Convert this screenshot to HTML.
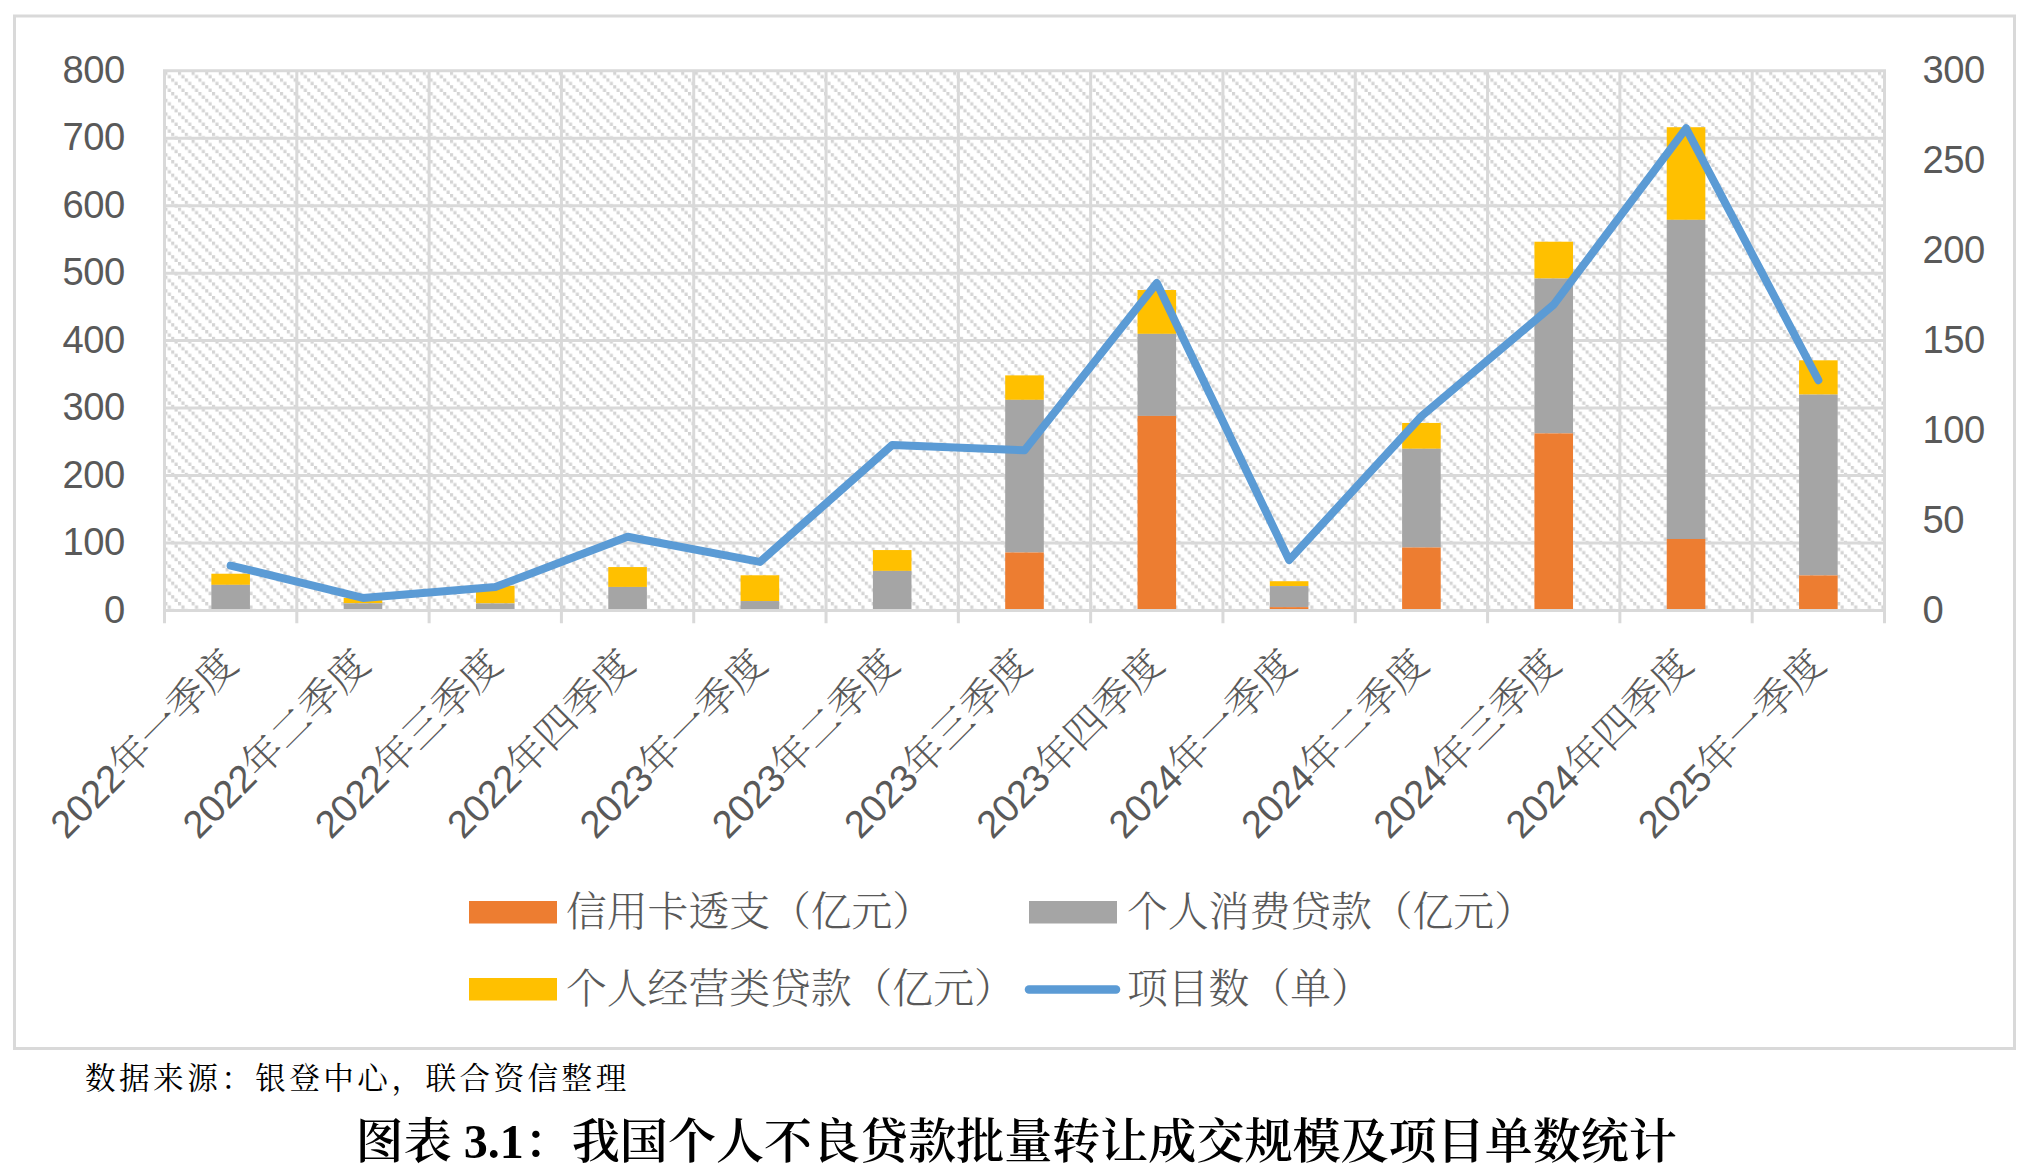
<!DOCTYPE html>
<html lang="zh-CN"><head><meta charset="utf-8"><title>图表 3.1</title>
<style>html,body{margin:0;padding:0;background:#fff}body{width:2034px;height:1176px;overflow:hidden}svg{display:block}.ax{font-family:"Liberation Sans",sans-serif;font-size:38.2px;fill:#595959;letter-spacing:-0.5px}.cat{font-family:"Liberation Sans","Noto Serif CJK SC",serif;font-size:40.2px;fill:#595959;font-weight:300}.cd{font-size:38.2px;font-weight:400}.lg{font-family:"Liberation Serif","Noto Serif CJK SC",serif;font-size:40.8px;fill:#595959;font-weight:300}.src{font-family:"Liberation Serif","Noto Serif CJK SC",serif;font-size:30.6px;letter-spacing:3.45px;fill:#000}.ttl{font-family:"Liberation Serif","Noto Serif CJK SC",serif;font-size:48.05px;fill:#000;font-weight:600}</style></head><body>
<svg width="2034" height="1176" viewBox="0 0 2034 1176">
<defs><pattern id="hatch" x="164.4" y="71.6" width="13.6" height="13.6" patternUnits="userSpaceOnUse"><rect x="0" y="0" width="3.1" height="3.4" fill="#d4d4d4"/><rect x="3.4" y="3.4" width="3.1" height="3.4" fill="#d4d4d4"/><rect x="6.8" y="6.8" width="3.1" height="3.4" fill="#d4d4d4"/><rect x="10.2" y="10.2" width="3.1" height="3.4" fill="#d4d4d4"/></pattern></defs>
<rect x="0" y="0" width="2034" height="1176" fill="#fff"/>
<rect x="14.5" y="16" width="2000" height="1032.5" fill="#fff" stroke="#d9d9d9" stroke-width="3"/>
<rect x="164.5" y="70.75" width="1720.0" height="539.75" fill="url(#hatch)"/>
<path d="M163.0 610.50H1886.0M163.0 543.03H1886.0M163.0 475.56H1886.0M163.0 408.09H1886.0M163.0 340.62H1886.0M163.0 273.16H1886.0M163.0 205.69H1886.0M163.0 138.22H1886.0M163.0 70.75H1886.0M164.50 69.25V623.30M296.81 69.25V623.30M429.12 69.25V623.30M561.42 69.25V623.30M693.73 69.25V623.30M826.04 69.25V623.30M958.35 69.25V623.30M1090.65 69.25V623.30M1222.96 69.25V623.30M1355.27 69.25V623.30M1487.58 69.25V623.30M1619.88 69.25V623.30M1752.19 69.25V623.30M1884.50 69.25V623.30" fill="none" stroke="#d9d9d9" stroke-width="3"/>
<rect x="211.35" y="573.73" width="38.6" height="11.13" fill="#FFC000"/>
<rect x="211.35" y="584.86" width="38.6" height="25.64" fill="#A5A5A5"/>
<rect x="343.66" y="597.88" width="38.6" height="5.40" fill="#FFC000"/>
<rect x="343.66" y="603.28" width="38.6" height="7.22" fill="#A5A5A5"/>
<rect x="475.97" y="585.87" width="38.6" height="17.54" fill="#FFC000"/>
<rect x="475.97" y="603.42" width="38.6" height="7.08" fill="#A5A5A5"/>
<rect x="608.28" y="567.05" width="38.6" height="19.90" fill="#FFC000"/>
<rect x="608.28" y="586.95" width="38.6" height="23.55" fill="#A5A5A5"/>
<rect x="740.58" y="575.28" width="38.6" height="25.77" fill="#FFC000"/>
<rect x="740.58" y="601.05" width="38.6" height="9.45" fill="#A5A5A5"/>
<rect x="872.89" y="550.05" width="38.6" height="20.85" fill="#FFC000"/>
<rect x="872.89" y="570.90" width="38.6" height="39.60" fill="#A5A5A5"/>
<rect x="1005.20" y="375.37" width="38.6" height="24.49" fill="#FFC000"/>
<rect x="1005.20" y="399.86" width="38.6" height="152.61" fill="#A5A5A5"/>
<rect x="1005.20" y="552.48" width="38.6" height="58.02" fill="#ED7D31"/>
<rect x="1137.51" y="290.02" width="38.6" height="43.85" fill="#FFC000"/>
<rect x="1137.51" y="333.88" width="38.6" height="82.04" fill="#A5A5A5"/>
<rect x="1137.51" y="415.92" width="38.6" height="194.58" fill="#ED7D31"/>
<rect x="1269.82" y="581.22" width="38.6" height="4.86" fill="#FFC000"/>
<rect x="1269.82" y="586.08" width="38.6" height="21.05" fill="#A5A5A5"/>
<rect x="1269.82" y="607.13" width="38.6" height="3.37" fill="#ED7D31"/>
<rect x="1402.12" y="422.94" width="38.6" height="25.84" fill="#FFC000"/>
<rect x="1402.12" y="448.78" width="38.6" height="98.71" fill="#A5A5A5"/>
<rect x="1402.12" y="547.48" width="38.6" height="63.02" fill="#ED7D31"/>
<rect x="1534.43" y="241.72" width="38.6" height="36.84" fill="#FFC000"/>
<rect x="1534.43" y="278.55" width="38.6" height="154.84" fill="#A5A5A5"/>
<rect x="1534.43" y="433.39" width="38.6" height="177.11" fill="#ED7D31"/>
<rect x="1666.74" y="127.22" width="38.6" height="92.63" fill="#FFC000"/>
<rect x="1666.74" y="219.86" width="38.6" height="319.13" fill="#A5A5A5"/>
<rect x="1666.74" y="538.98" width="38.6" height="71.52" fill="#ED7D31"/>
<rect x="1799.05" y="360.33" width="38.6" height="34.27" fill="#FFC000"/>
<rect x="1799.05" y="394.60" width="38.6" height="180.82" fill="#A5A5A5"/>
<rect x="1799.05" y="575.42" width="38.6" height="35.08" fill="#ED7D31"/>
<path d="M163.0 610.5H1886.0" stroke="#d9d9d9" stroke-width="3" fill="none"/>
<polyline points="230.65,565.52 362.96,597.91 495.27,587.11 627.58,536.73 759.88,561.92 892.19,444.98 1024.50,450.37 1156.81,283.05 1289.12,560.12 1421.42,416.19 1553.73,304.64 1686.04,128.32 1818.35,380.21" fill="none" stroke="#5B9BD5" stroke-width="8" stroke-linecap="round" stroke-linejoin="round"/>
<text class="ax" x="124.8" y="622.50" text-anchor="end">0</text>
<text class="ax" x="124.8" y="555.03" text-anchor="end">100</text>
<text class="ax" x="124.8" y="487.56" text-anchor="end">200</text>
<text class="ax" x="124.8" y="420.09" text-anchor="end">300</text>
<text class="ax" x="124.8" y="352.62" text-anchor="end">400</text>
<text class="ax" x="124.8" y="285.16" text-anchor="end">500</text>
<text class="ax" x="124.8" y="217.69" text-anchor="end">600</text>
<text class="ax" x="124.8" y="150.22" text-anchor="end">700</text>
<text class="ax" x="124.8" y="82.75" text-anchor="end">800</text>
<text class="ax" x="1922.5" y="622.50">0</text>
<text class="ax" x="1922.5" y="532.54">50</text>
<text class="ax" x="1922.5" y="442.58">100</text>
<text class="ax" x="1922.5" y="352.62">150</text>
<text class="ax" x="1922.5" y="262.67">200</text>
<text class="ax" x="1922.5" y="172.71">250</text>
<text class="ax" x="1922.5" y="82.75">300</text>
<text class="cat" text-anchor="end" transform="translate(240.15 666.50) rotate(-45)"><tspan class="cd">2022</tspan>年一季度</text>
<text class="cat" text-anchor="end" transform="translate(372.46 666.50) rotate(-45)"><tspan class="cd">2022</tspan>年二季度</text>
<text class="cat" text-anchor="end" transform="translate(504.77 666.50) rotate(-45)"><tspan class="cd">2022</tspan>年三季度</text>
<text class="cat" text-anchor="end" transform="translate(637.08 666.50) rotate(-45)"><tspan class="cd">2022</tspan>年四季度</text>
<text class="cat" text-anchor="end" transform="translate(769.38 666.50) rotate(-45)"><tspan class="cd">2023</tspan>年一季度</text>
<text class="cat" text-anchor="end" transform="translate(901.69 666.50) rotate(-45)"><tspan class="cd">2023</tspan>年二季度</text>
<text class="cat" text-anchor="end" transform="translate(1034.00 666.50) rotate(-45)"><tspan class="cd">2023</tspan>年三季度</text>
<text class="cat" text-anchor="end" transform="translate(1166.31 666.50) rotate(-45)"><tspan class="cd">2023</tspan>年四季度</text>
<text class="cat" text-anchor="end" transform="translate(1298.62 666.50) rotate(-45)"><tspan class="cd">2024</tspan>年一季度</text>
<text class="cat" text-anchor="end" transform="translate(1430.92 666.50) rotate(-45)"><tspan class="cd">2024</tspan>年二季度</text>
<text class="cat" text-anchor="end" transform="translate(1563.23 666.50) rotate(-45)"><tspan class="cd">2024</tspan>年三季度</text>
<text class="cat" text-anchor="end" transform="translate(1695.54 666.50) rotate(-45)"><tspan class="cd">2024</tspan>年四季度</text>
<text class="cat" text-anchor="end" transform="translate(1827.85 666.50) rotate(-45)"><tspan class="cd">2025</tspan>年一季度</text>
<rect x="469" y="901" width="88" height="22.5" fill="#ED7D31"/>
<rect x="1029" y="901" width="88" height="22.5" fill="#A5A5A5"/>
<rect x="469" y="978" width="88" height="22.5" fill="#FFC000"/>
<path d="M1029 989.4H1116" stroke="#5B9BD5" stroke-width="8.5" stroke-linecap="round" fill="none"/>
<text class="lg" x="566" y="925.8">信用卡透支（亿元）</text>
<text class="lg" x="1127" y="925.8">个人消费贷款（亿元）</text>
<text class="lg" x="566" y="1002.8">个人经营类贷款（亿元）</text>
<text class="lg" x="1127" y="1002.8">项目数（单）</text>
<text class="src" x="85" y="1089">数据来源：银登中心，联合资信整理</text>
<text class="ttl" x="355.6" y="1158">图表 3.1：我国个人不良贷款批量转让成交规模及项目单数统计</text>
</svg></body></html>
